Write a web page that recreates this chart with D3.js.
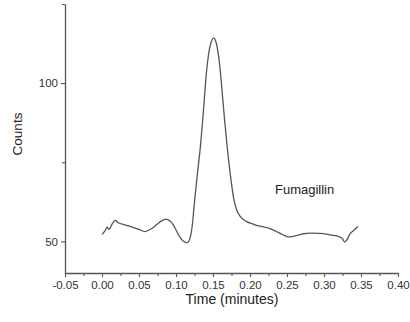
<!DOCTYPE html>
<html><head><meta charset="utf-8">
<script src="https://cdn.jsdelivr.net/npm/d3@7"></script>
<style>html,body{margin:0;padding:0;background:#fff;}svg{display:block;}</style>
</head><body>
<svg id="c" width="410" height="322"></svg>
<script>
const time = [0.000,0.004,0.007,0.009,0.011,0.014,0.018,0.022,0.030,0.040,0.050,0.058,0.066,0.074,0.080,0.086,0.092,0.098,0.104,0.110,0.114,0.116,0.119,0.122,0.125,0.129,0.133,0.137,0.141,0.145,0.148,0.151,0.154,0.157,0.160,0.163,0.166,0.170,0.174,0.178,0.182,0.187,0.195,0.205,0.215,0.225,0.235,0.245,0.252,0.262,0.272,0.282,0.295,0.310,0.320,0.325,0.328,0.331,0.335,0.340,0.346];
const counts = [52.2,53.3,54.5,53.8,54.2,55.6,56.6,55.9,55.3,54.6,53.8,53.1,53.9,55.3,56.4,57.0,56.4,54.5,51.8,50.0,49.6,49.7,51.0,55.0,62.5,71.5,80.0,91.0,103.0,110.5,113.3,114.2,113.0,109.5,103.5,95.5,87.5,78.0,70.0,63.5,60.0,57.8,56.3,55.4,54.7,54.2,53.2,52.0,51.4,51.8,52.4,52.6,52.5,52.0,51.5,50.8,49.8,50.5,52.3,53.4,54.7];
const xTicks = [-0.05,0.00,0.05,0.10,0.15,0.20,0.25,0.30,0.35,0.40];
const xMinor = [-0.025,0.025,0.075,0.125,0.175,0.225,0.275,0.325,0.375];
const yTicks = [50,100];
const yMinor = [75,125];
const label = "Fumagillin";

const svg = d3.select("#c");
const x = d3.scaleLinear().domain([-0.05,0.40]).range([65,398]);
const y = d3.scaleLinear().domain([40,125]).range([273,4]);
const col = "#555";
const font = "Arial, 'Liberation Sans', sans-serif";
const fmtX = d => (d < 0 ? "-" : "") + Math.abs(d).toFixed(2);

// X axis
const gx = svg.append("g").attr("transform","translate(0,273)");
gx.call(d3.axisBottom(x).tickValues(xTicks).tickFormat(fmtX).tickSizeInner(4).tickSizeOuter(0).tickPadding(4));
gx.append("g").call(d3.axisBottom(x).tickValues(xMinor).tickFormat("").tickSizeInner(3).tickSizeOuter(0)).select(".domain").remove();
// Y axis
const gy = svg.append("g").attr("transform","translate(65,0)");
gy.call(d3.axisLeft(y).tickValues(yTicks).tickFormat(d3.format("d")).tickSizeInner(4).tickSizeOuter(0).tickPadding(3));
gy.append("g").call(d3.axisLeft(y).tickValues(yMinor).tickFormat("").tickSizeInner(3).tickSizeOuter(0)).select(".domain").remove();

svg.selectAll(".domain").attr("stroke",col).attr("stroke-width",1.3);
svg.selectAll(".tick line").attr("stroke",col).attr("stroke-width",1.1);
svg.selectAll(".tick text").attr("fill","#333").attr("font-family",font).attr("font-size",11.5);

// Axis titles
svg.append("text").attr("x",232).attr("y",304).attr("text-anchor","middle")
  .attr("font-family",font).attr("font-size",14).attr("fill","#222").text("Time (minutes)");
svg.append("text").attr("transform","translate(22,134) rotate(-90)").attr("text-anchor","middle")
  .attr("font-family",font).attr("font-size",13.5).attr("fill","#222").text("Counts");

// Curve
const data = time.map((t,i)=>[t,counts[i]]);
svg.append("path").datum(data)
  .attr("fill","none").attr("stroke",col).attr("stroke-width",1.3)
  .attr("d", d3.line().x(d=>x(d[0])).y(d=>y(d[1])).curve(d3.curveMonotoneX));

// Annotation
svg.append("text").attr("x",275).attr("y",194)
  .attr("font-family",font).attr("font-size",13).attr("fill","#222").text(label);
</script>
</body></html>
